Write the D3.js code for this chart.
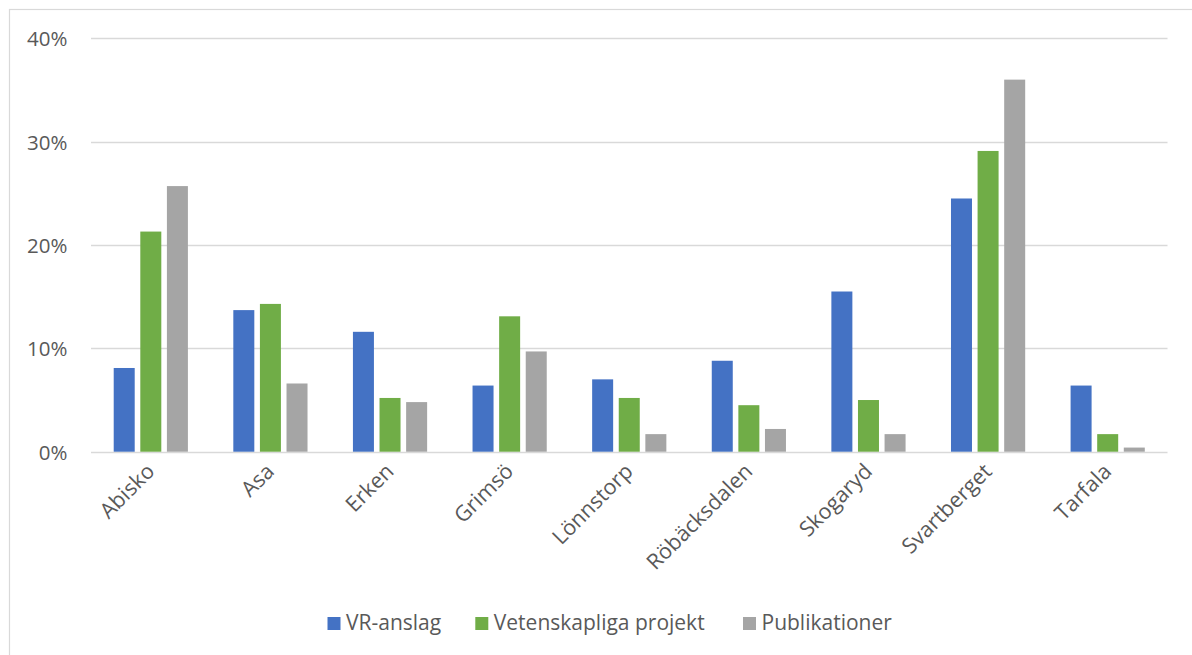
<!DOCTYPE html>
<html>
<head>
<meta charset="utf-8">
<script src="https://cdn.jsdelivr.net/npm/d3@7"></script>
<style>
  html, body { margin: 0; padding: 0; background: #fff; }
  svg { display: block; }
  text { font-family: "Open Sans", "Noto Sans", sans-serif; fill: #595959; }
</style>
</head>
<body>
<svg id="chart" width="1192" height="655"></svg>
<script>
const categories = ["Abisko", "Asa", "Erken", "Grimsö", "Lönnstorp", "Röbäcksdalen", "Skogaryd", "Svartberget", "Tarfala"];
const seriesNames = ["VR-anslag", "Vetenskapliga projekt", "Publikationer"];
const vrAnslag = [0.081, 0.137, 0.116, 0.064, 0.070, 0.088, 0.155, 0.245, 0.064];
const vetenskapligaProjekt = [0.213, 0.143, 0.052, 0.131, 0.052, 0.045, 0.050, 0.291, 0.017];
const publikationer = [0.257, 0.066, 0.048, 0.097, 0.017, 0.022, 0.017, 0.360, 0.004];
const yTicks = [0, 0.1, 0.2, 0.3, 0.4];
const colors = ["#4472C4", "#70AD47", "#A5A5A5"];

const seriesValues = [vrAnslag, vetenskapligaProjekt, publikationer];

const svg = d3.select("#chart");

// outer frame
svg.append("rect")
  .attr("x", 9.5).attr("y", 9.5)
  .attr("width", 1300).attr("height", 800)
  .attr("fill", "none").attr("stroke", "#d9d9d9").attr("stroke-width", 1.2);

const plot = { left: 91, right: 1167.5, top: 38.3, bottom: 451.7 };

const y = d3.scaleLinear().domain([0, 0.4]).range([plot.bottom, plot.top]);
const x0 = d3.scaleBand().domain(categories).range([plot.left, plot.right]).padding(0);
const groupHalf = 39.9;
const x1 = d3.scaleBand().domain(seriesNames)
  .range([x0.bandwidth() / 2 - groupHalf, x0.bandwidth() / 2 + groupHalf]).padding(0);
const barW = x1.bandwidth() - 5.6;

// gridlines
svg.append("g")
  .selectAll("line")
  .data(yTicks)
  .join("line")
  .attr("x1", plot.left).attr("x2", plot.right)
  .attr("y1", d => Math.round(y(d)) + 0.5).attr("y2", d => Math.round(y(d)) + 0.5)
  .attr("stroke", "#d9d9d9").attr("stroke-width", 1.5);

// y axis labels
const yAxis = d3.axisLeft(y).tickValues(yTicks).tickFormat(d3.format(".0%")).tickSize(0).tickPadding(0);
const yg = svg.append("g").attr("transform", `translate(67.5,0)`).call(yAxis);
yg.select(".domain").remove();
yg.selectAll("text")
  .attr("font-size", 20.5)
  .attr("font-family", "Open Sans")
  .attr("fill", "#595959")
  .attr("dy", "0.36em");

// bars
const groups = svg.append("g")
  .selectAll("g")
  .data(categories)
  .join("g")
  .attr("transform", d => `translate(${x0(d)},0)`);

groups.selectAll("rect")
  .data((c, i) => seriesNames.map((s, k) => ({ s, k, v: seriesValues[k][i] })))
  .join("rect")
  .attr("x", d => x1(d.s) + (x1.bandwidth() - barW) / 2)
  .attr("width", barW)
  .attr("y", d => y(d.v))
  .attr("height", d => y(0) - y(d.v))
  .attr("fill", d => colors[d.k]);

// x axis labels
const xAxis = d3.axisBottom(x0).tickSize(0).tickPadding(0);
const xg = svg.append("g").attr("transform", `translate(0,${plot.bottom})`).call(xAxis);
xg.select(".domain").remove();
xg.selectAll("text")
  .attr("font-size", 21.5)
  .attr("font-family", "Open Sans")
  .attr("fill", "#595959")
  .attr("text-anchor", "end")
  .attr("dy", null)
  .attr("y", 0)
  .attr("transform", "translate(5,21) rotate(-45)");

// legend
const legendX = [327.5, 475.3, 743];
const legend = svg.append("g");
const items = legend.selectAll("g")
  .data(seriesNames)
  .join("g")
  .attr("transform", (d, i) => `translate(${legendX[i]},617)`);
items.append("rect")
  .attr("width", 13).attr("height", 13)
  .attr("fill", (d, i) => colors[i]);
items.append("text")
  .attr("x", 18.5).attr("y", 13)
  .attr("font-size", 21)
  .attr("fill", "#595959")
  .text(d => d);
</script>
</body>
</html>
